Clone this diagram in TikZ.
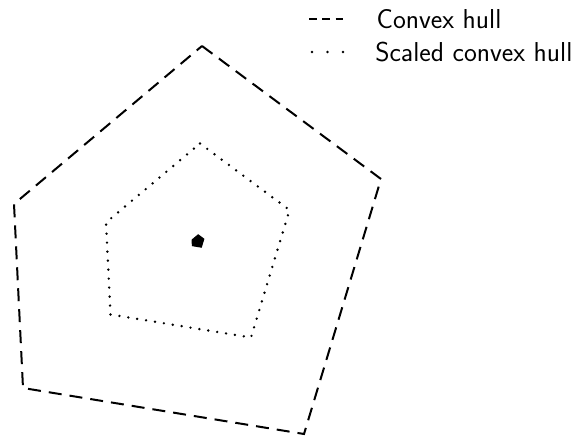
\documentclass[tikz,border=0pt]{standalone}
\usepackage{tikz}
\usetikzlibrary{positioning, calc}
\tikzset{
    hull/.style={draw=black, line width=1.5pt, dash pattern=on 9.75pt off 6pt},
    scaledhull/.style={draw=black, line width=2pt, line cap=round, dash pattern=on 0pt off 6.75pt},
    legendtext/.style={anchor=west, inner sep=0pt, font=\fontsize{20.5}{24}\selectfont\sffamily},
}
\begin{document}
\begin{tikzpicture}[x=0.75pt, y=-0.75pt]
    \useasboundingbox (0,0) rectangle (577,441);

    % Centro e vertici
    \coordinate (c) at (198,241);
    \coordinate (p1) at (202,46);
    \coordinate (p2) at (381,179);
    \coordinate (p3) at (304,434);
    \coordinate (p4) at (23,388);
    \coordinate (p5) at (14,204);

    % Inviluppo convesso
    \draw[hull] (p1) -- (p2) -- (p3) -- (p4) -- (p5) -- cycle;

    % Inviluppo scalato
    \draw[scaledhull] ($(c)!0.5!(p1)$) -- ($(c)!0.5!(p2)$) -- ($(c)!0.5!(p3)$) -- ($(c)!0.5!(p4)$) -- ($(c)!0.5!(p5)$) -- cycle;

    % Punto centrale
    \fill ($(c)!0.035!(p1)$) -- ($(c)!0.035!(p2)$) -- ($(c)!0.035!(p3)$) -- ($(c)!0.035!(p4)$) -- ($(c)!0.035!(p5)$) -- cycle;

    % Legenda
    \coordinate (la) at (309,19);
    \coordinate (lb) at (343,19);
    \coordinate (lc) at (312,52);
    \coordinate (ld) at (343,52);
    \draw[hull, dash pattern=on 6pt off 4pt] (la) -- (lb);
    \draw[scaledhull, dash pattern=on 0pt off 11.6pt] (lc) -- (ld);
    \node[legendtext, right=25pt of lb] (convex) {Convex hull};
    \node[legendtext, right=24pt of ld] (scaled) {Scaled convex hull};
\end{tikzpicture}
\end{document}
